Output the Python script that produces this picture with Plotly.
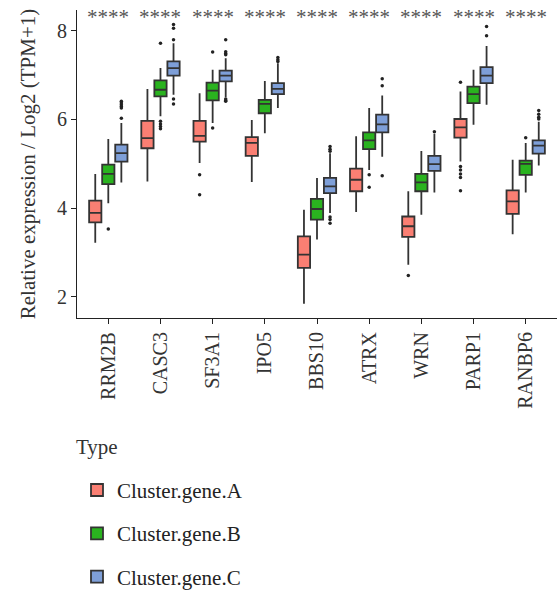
import plotly.graph_objects as go

genes = ["RRM2B", "CASC3", "SF3A1", "IPO5", "BBS10", "ATRX", "WRN", "PARP1", "RANBP6"]
groups = ["Cluster.gene.A", "Cluster.gene.B", "Cluster.gene.C"]
colors = ["#FA7F73", "#2AB31F", "#7E9FD8"]

# box statistics per group (one value per gene)
lower_A = [3.22, 4.60, 5.02, 4.59, 1.84, 3.91, 2.72, 5.05, 3.41]
q1_A    = [3.68, 5.35, 5.50, 5.18, 2.65, 4.38, 3.35, 5.59, 3.87]
med_A   = [3.89, 5.58, 5.63, 5.47, 2.95, 4.64, 3.59, 5.82, 4.15]
q3_A    = [4.17, 5.97, 5.97, 5.60, 3.36, 4.89, 3.81, 6.01, 4.40]
upper_A = [4.77, 6.69, 6.59, 5.99, 3.96, 5.62, 4.38, 6.63, 5.09]
out_A = [[None], [None], [4.75, 4.30], [None], [None], [None], [2.48],
         [6.84, 4.94, 4.86, 4.77, 4.69, 4.39], [None]]

lower_B = [4.11, 6.07, 5.92, 5.69, 3.29, 4.86, 3.85, 5.88, 4.35]
q1_B    = [4.54, 6.52, 6.43, 6.14, 3.74, 5.33, 4.38, 6.37, 4.75]
med_B   = [4.77, 6.67, 6.65, 6.35, 3.98, 5.53, 4.58, 6.57, 5.00]
q3_B    = [4.98, 6.88, 6.83, 6.44, 4.21, 5.71, 4.77, 6.74, 5.07]
upper_B = [5.56, 7.16, 7.12, 6.87, 4.68, 6.26, 5.29, 7.12, 5.47]
out_B = [[3.53], [7.72, 5.96, 5.90, 5.84, 5.79], [7.52, 5.81], [None], [None],
         [4.75, 4.47], [None], [None], [5.59]]

lower_C = [4.58, 6.56, 6.50, 6.26, 3.89, 5.16, 4.35, 6.33, 4.96]
q1_C    = [5.05, 6.99, 6.86, 6.57, 4.34, 5.71, 4.84, 6.82, 5.23]
med_C   = [5.24, 7.16, 6.99, 6.69, 4.49, 5.89, 4.99, 6.99, 5.41]
q3_C    = [5.43, 7.31, 7.10, 6.82, 4.68, 6.11, 5.18, 7.18, 5.53]
upper_C = [5.92, 7.72, 7.38, 7.27, 5.24, 6.54, 5.68, 7.66, 5.95]
out_C = [[6.41, 6.37, 6.33, 6.29, 6.26, 6.03], [8.14, 8.06, 7.80, 6.46, 6.35],
         [7.80, 7.53, 7.49, 7.46, 6.46, 6.43, 6.41], [7.40, 7.35, 7.31],
         [5.39, 5.33, 5.28, 3.80, 3.74, 3.66], [6.92, 6.76, 4.73], [5.72],
         [8.10, 7.89], [6.20, 6.12, 6.05, 6.01]]

signif = ["****"] * len(genes)
signif_y = 8.31

stats = [
    (lower_A, q1_A, med_A, q3_A, upper_A, out_A),
    (lower_B, q1_B, med_B, q3_B, upper_B, out_B),
    (lower_C, q1_C, med_C, q3_C, upper_C, out_C),
]

FONT = "Liberation Serif"
fig = go.Figure()
for name, col, (lf, q1, md, q3, uf, outs) in zip(groups, colors, stats):
    fig.add_trace(go.Box(
        name=name, legendgroup=name, offsetgroup=name,
        x=genes, y=outs,
        lowerfence=lf, q1=q1, median=md, q3=q3, upperfence=uf,
        boxpoints="outliers", jitter=0, pointpos=0,
        fillcolor=col, line=dict(color="#333333", width=1.8),
        marker=dict(color="#222222", size=3.5, outliercolor="#222222",
                    line=dict(width=0)),
        whiskerwidth=0,
    ))

for g, s in zip(genes, signif):
    fig.add_annotation(x=g, y=signif_y, text=s, showarrow=False,
                       font=dict(family=FONT, size=21, color="#555555"),
                       yanchor="middle")

fig.add_annotation(xref="paper", yref="paper", x=-0.006, y=-0.419,
                   xanchor="left", yanchor="middle", showarrow=False,
                   text="Type", font=dict(family=FONT, size=21, color="#333333"))

fig.update_layout(
    width=557, height=594,
    margin=dict(l=77, r=0, t=10, b=276, autoexpand=False),
    paper_bgcolor="white", plot_bgcolor="white",
    boxmode="group", boxgap=0.25, boxgroupgap=0.06,
    font=dict(family=FONT, size=20, color="#333333"),
    showlegend=True,
    legend=dict(
        x=0.0, xanchor="left", y=-0.493, yanchor="top",
        font=dict(family=FONT, size=21, color="#222222"),
        tracegroupgap=13, bgcolor="rgba(0,0,0,0)",
    ),
    xaxis=dict(
        type="category", categoryorder="array", categoryarray=genes,
        range=[-0.6, 8.6], showline=True, linecolor="#222222", linewidth=1.2,
        ticks="outside", ticklen=5, tickcolor="#222222", tickwidth=1.2,
        tickangle=-90, tickfont=dict(family=FONT, size=20, color="#333333"),
        showgrid=False, zeroline=False, automargin=False,
    ),
    yaxis=dict(
        range=[1.52, 8.47], showline=True, linecolor="#222222", linewidth=1.2,
        ticks="outside", ticklen=5, tickcolor="#222222", tickwidth=1.2,
        tickvals=[2, 4, 6, 8], tickfont=dict(family=FONT, size=20, color="#333333"),
        title=dict(text="Relative expression / Log2 (TPM+1)",
                   font=dict(family=FONT, size=21, color="#333333"), standoff=15),
        showgrid=False, zeroline=False, automargin=False,
    ),
)

fig.write_html("out.html", config={"displayModeBar": False},
               post_script="document.body.style.margin='0';")
